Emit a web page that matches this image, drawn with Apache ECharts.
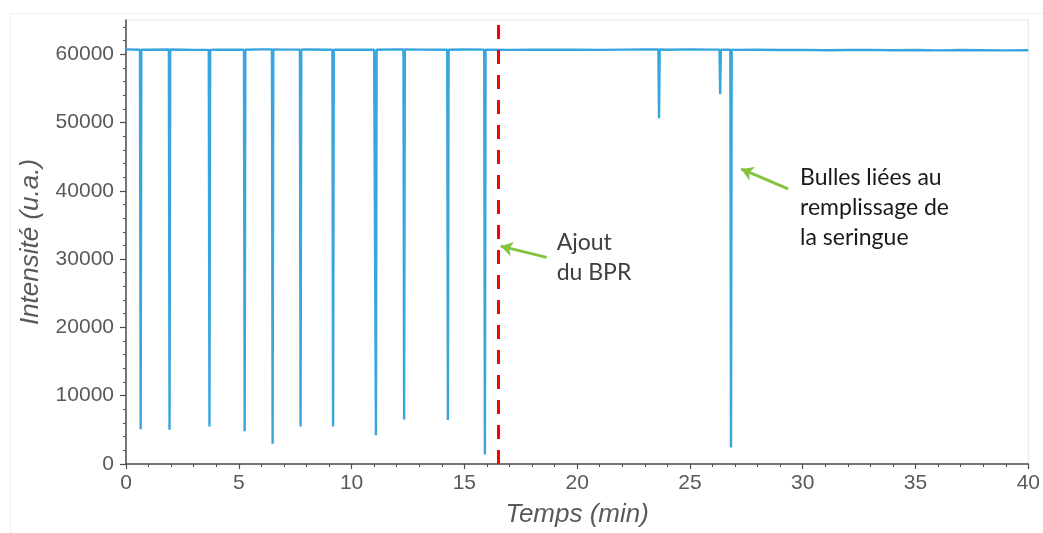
<!DOCTYPE html>
<html>
<head>
<meta charset="utf-8">
<script src="https://cdn.jsdelivr.net/npm/echarts@6/dist/echarts.min.js"></script>
<style>
html,body{margin:0;padding:0;background:#fff;}
#chart{width:1043px;height:533px;}
</style>
</head>
<body>
<div id="chart"></div>
<script>
// ---- data ----
const baselineTimes = [0,1,2,3,4,5,6,7,8,9,10,11,12,13,14,15,16,17,18,19,20,21,22,23,24,25,26,27,28,29,30,31,32,33,34,35,36,37,38,39,40];
const baselineValues = [60700,60650,60680,60620,60660,60640,60700,60660,60690,60640,60670,60650,60700,60660,60640,60680,60650,60620,60660,60640,60650,60620,60660,60680,60640,60700,60660,60620,60640,60600,60620,60580,60600,60620,60580,60600,60560,60600,60580,60560,60580];
const spikeTimes = [0.65,1.93,3.70,5.26,6.50,7.74,9.18,11.08,12.33,14.27,15.91,23.63,26.34,26.82];
const spikeMins  = [5100,5000,5500,4800,2950,5500,5500,4200,6500,6450,1400,50600,54150,2400];
const spikeShoulder = [60650,60680,60630,60640,60700,60660,60650,60650,60690,60650,60660,60680,60660,60640];

const bprTime = 16.5;
const xTickLabels = [0,5,10,15,20,25,30,35,40];
const yTickLabels = [0,10000,20000,30000,40000,50000,60000];
const yMinorTicks = [2000,4000,6000,8000,12000,14000,16000,18000,22000,24000,26000,28000,32000,34000,36000,38000,42000,44000,46000,48000,52000,54000,56000,58000,62000,64000];

const arrowFrom = [[18.65,30250],[29.35,40280]];
const arrowTo   = [[16.61,31890],[27.27,43190]];
const noteTexts = ['Ajout\ndu BPR','Bulles liées au\nremplissage de\nla seringue'];
const noteAnchors = [[19.09,34600],[29.88,44200]];
const noteColors = ['#404040','#1a1a1a'];

// ---- build series data ----
const pts = [];
baselineTimes.forEach((t,i)=>pts.push([t, baselineValues[i]]));
const hw = 0.03;
spikeTimes.forEach((t,i)=>{
  pts.push([t-hw, spikeShoulder[i]]);
  pts.push([t, spikeMins[i]]);
  pts.push([t+hw, spikeShoulder[i]]);
});
pts.sort((a,b)=>a[0]-b[0]);

const axisColor = '#4d4d4d';
const labelColor = '#595959';
const font = '"Liberation Sans", Arial, sans-serif';

const chart = echarts.init(document.getElementById('chart'), null, {renderer:'canvas'});
const option = {
  animation:false,
  backgroundColor:'#fff',
  textStyle:{fontFamily:font},
  grid:{left:126,right:12,top:20,bottom:66,show:true,borderColor:'#e4e4e4',borderWidth:1,backgroundColor:'transparent'},
  xAxis:{
    type:'value',min:0,max:40,interval:5,
    name:'Temps (min)',nameLocation:'middle',nameGap:38,
    nameTextStyle:{fontFamily:font,fontStyle:'italic',fontSize:26,color:labelColor},
    axisLine:{show:true,lineStyle:{color:axisColor,width:1.5}},
    axisTick:{show:true,length:5,lineStyle:{color:axisColor,width:1.2}},
    minorTick:{show:true,splitNumber:5,length:3,lineStyle:{color:axisColor,width:1}},
    axisLabel:{fontFamily:font,fontSize:21,color:labelColor,margin:9,customValues:xTickLabels,formatter:v=>String(v)},
    splitLine:{show:false}
  },
  yAxis:[{
    type:'value',min:0,max:65000,
    name:'Intensité (u.a.)',nameLocation:'middle',nameGap:82,
    nameTextStyle:{fontFamily:font,fontStyle:'italic',fontSize:26,color:labelColor},
    axisLine:{show:true,lineStyle:{color:axisColor,width:1.5}},
    axisTick:{show:true,length:6,customValues:yTickLabels,lineStyle:{color:axisColor,width:1.2}},
    axisLabel:{fontFamily:font,fontSize:21,color:labelColor,margin:12,customValues:yTickLabels,formatter:v=>String(v)},
    splitLine:{show:false}
  },{
    type:'value',min:0,max:65000,position:'left',
    axisLine:{show:false},
    axisTick:{show:true,length:3,customValues:yMinorTicks,lineStyle:{color:axisColor,width:1}},
    axisLabel:{show:false},
    splitLine:{show:false}
  }],
  series:[{
    type:'line',
    data:pts,
    showSymbol:false,
    symbol:'none',
    lineStyle:{color:'#38a5de',width:2.4},
    z:3,
    markLine:{
      silent:true,
      animation:false,
      label:{show:false},
      data:[
        [{coord:[bprTime,0],symbol:'none',lineStyle:{color:'#ff0000',width:3,type:[14,11]}},
         {coord:[bprTime,64300],symbol:'none'}],
        [{coord:arrowFrom[0],symbol:'none',lineStyle:{color:'#86c440',width:3,type:'solid'}},
         {coord:arrowTo[0],symbol:'arrow',symbolSize:[11,12]}],
        [{coord:arrowFrom[1],symbol:'none',lineStyle:{color:'#86c440',width:3,type:'solid'}},
         {coord:arrowTo[1],symbol:'arrow',symbolSize:[11,12]}]
      ]
    }
  }]
};
chart.setOption(option);

// text annotations positioned through the axes
const graphics = [{
  type:'rect',left:8,top:11,shape:{width:1100,height:600},
  style:{fill:'none',stroke:'#efefef',lineWidth:1},silent:true,z:-10
}];
noteTexts.forEach((txt,i)=>{
  const p = chart.convertToPixel({gridIndex:0},noteAnchors[i]);
  graphics.push({
    type:'text',x:p[0],y:p[1],
    style:{text:txt,fill:noteColors[i],font:'23px Lato, "Open Sans", sans-serif',lineHeight:30,align:'left',verticalAlign:'top'},
    z:10
  });
});
chart.setOption({graphic:graphics});
</script>
</body>
</html>
